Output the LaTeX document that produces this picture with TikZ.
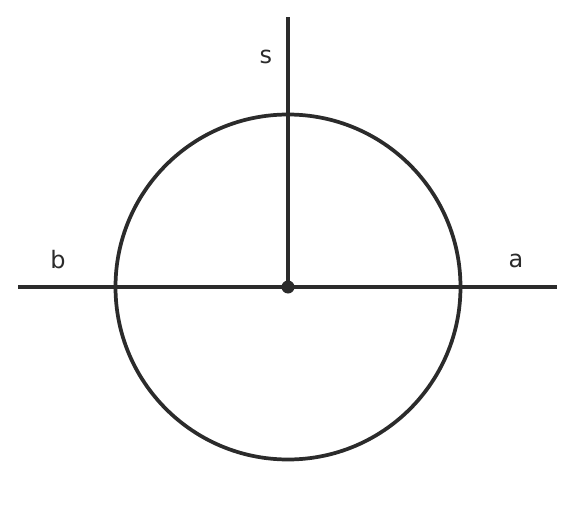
\documentclass[tikz,border=0pt]{standalone}
\usepackage{fontspec}
\setmainfont{DejaVu Sans}
\usetikzlibrary{positioning}
\definecolor{ink}{HTML}{2B2B2B}
\tikzset{
  axis/.style={draw=ink, line width=2.8pt},
  lbl/.style={text=ink, font=\fontsize{18}{20}\selectfont, inner sep=0pt}
}
\begin{document}
\begin{tikzpicture}[x=0.75pt, y=-0.75pt]
		\useasboundingbox (0,0) rectangle (576,532);
		\coordinate (o) at (288,287);
		\coordinate (left) at (18,287);
		\coordinate (right) at (557,287);
		\coordinate (top) at (288,17);

		\draw[axis] (o) circle[radius=172.5];
		\draw[axis] (left) -- (right);
		\draw[axis] (o) -- (top);
		\fill[ink] (o) circle[radius=6.5];

		\node[lbl] (s) at (266,57) {s};
		\node[lbl] (b) at (58,260) {b};
		\node[lbl] (a) at (516,261) {a};
	\end{tikzpicture}
\end{document}
